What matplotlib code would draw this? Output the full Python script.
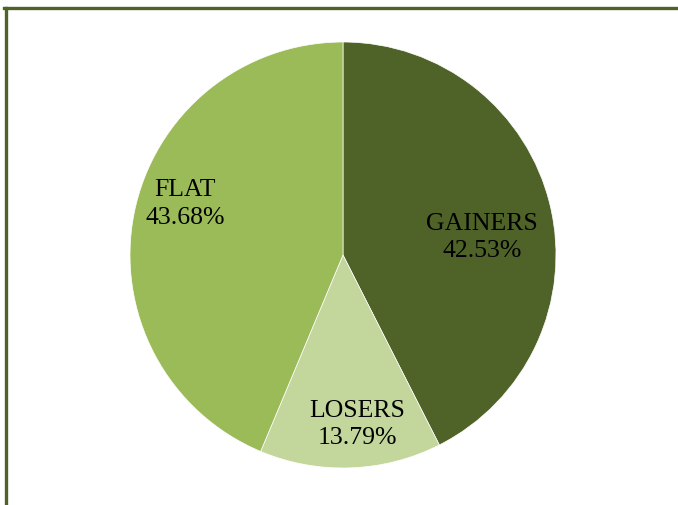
import matplotlib.pyplot as plt
from matplotlib.lines import Line2D

labels = ['GAINERS', 'LOSERS', 'FLAT']
shares = [42.53, 13.79, 43.68]
colors = ['#4F6228', '#C3D69B', '#9BBB59']
# label anchor points in units of the pie radius
label_pos = [(0.653, 0.085), (0.066, -0.789), (-0.742, 0.244)]

W, H = 678, 506
fig = plt.figure(figsize=(W / 100, H / 100), dpi=100)
fig.patch.set_facecolor('white')

cx, cy, r = 343, 250, 213
ax = fig.add_axes([(cx - r) / W, (cy - r) / H, 2 * r / W, 2 * r / H])
ax.pie(shares, colors=colors, startangle=90, counterclock=False, radius=1,
       wedgeprops=dict(edgecolor='white', linewidth=0.5))
ax.set_xlim(-1, 1)
ax.set_ylim(-1, 1)
ax.axis('off')

for lab, val, (x, y) in zip(labels, shares, label_pos):
    ax.text(x, y, f'{lab}\n{val:.2f}%', ha='center', va='center',
            fontsize=18.5, family='Liberation Serif', color='black', linespacing=1.3)

# frame border (top and left visible)
border = '#4F6228'
fig.add_artist(Line2D([4 / W, 1], [1 - 9 / H, 1 - 9 / H], color=border, lw=2.4,
                      transform=fig.transFigure))
fig.add_artist(Line2D([6 / W, 6 / W], [0, 1 - 9 / H], color=border, lw=2.4,
                      transform=fig.transFigure))

fig.savefig('out.png', dpi=100)
